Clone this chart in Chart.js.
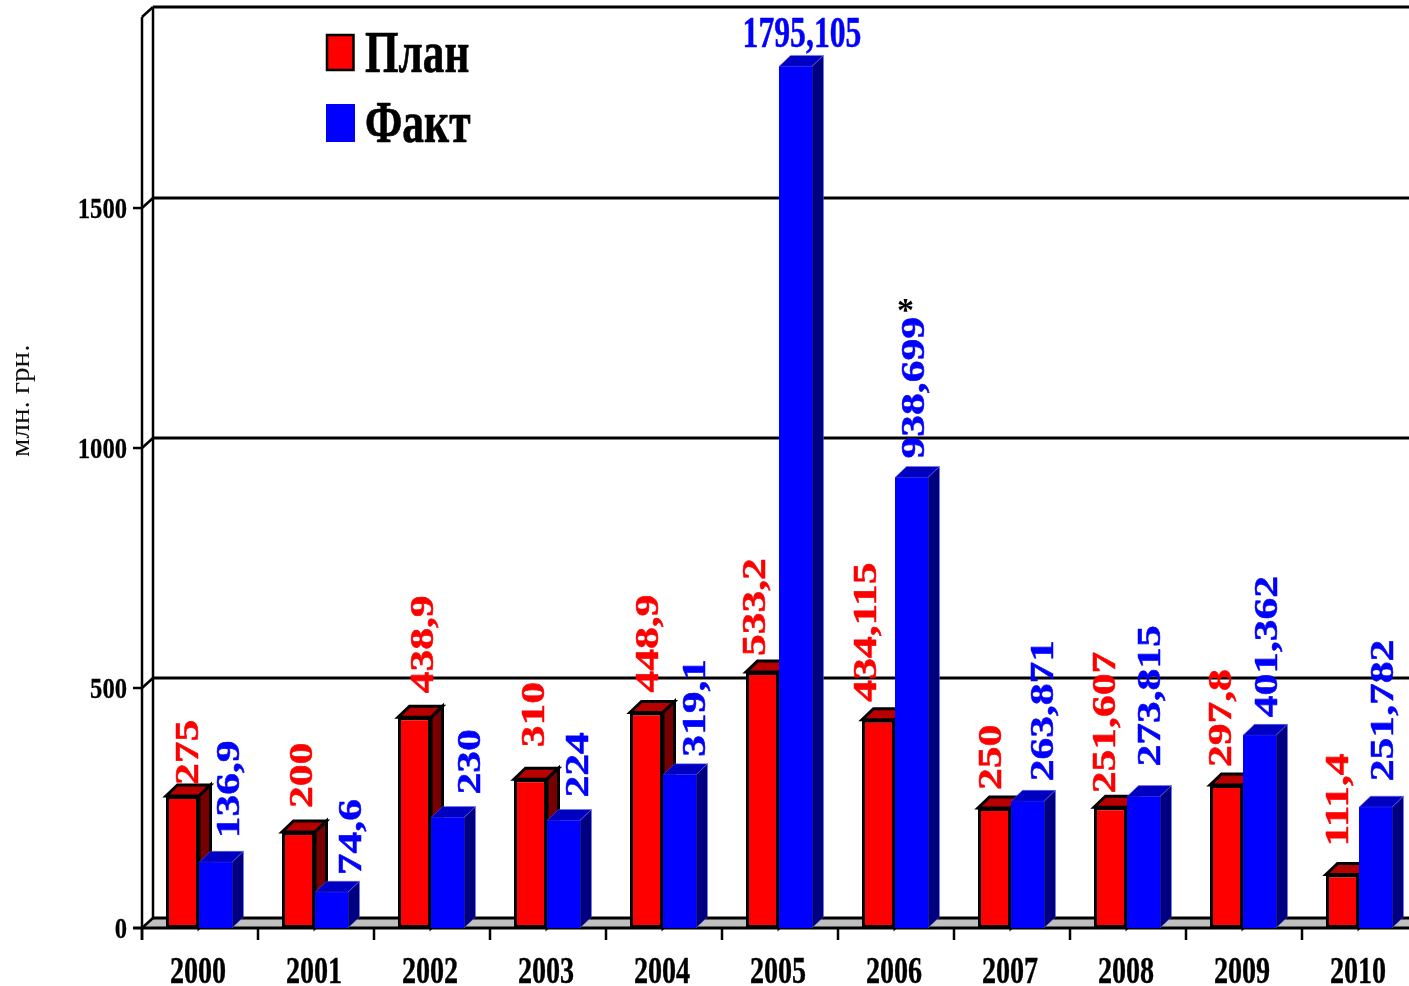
<!DOCTYPE html>
<html><head><meta charset="utf-8">
<style>html,body{margin:0;padding:0;background:#fff;overflow:hidden;width:1409px;height:986px}canvas{display:block}</style>
<script src="https://cdn.jsdelivr.net/npm/chart.js@4"></script>
</head><body><canvas id="c" width="1440" height="986" style="width:1440px;height:986px"></canvas>
<script>
const categories=['2000','2001','2002','2003','2004','2005','2006','2007','2008','2009','2010'];
const planValues=[275,200,438.9,310,448.9,533.2,434.115,250,251.607,297.8,111.4];
const factValues=[136.9,74.6,230,224,319.1,1795.105,938.699,263.871,273.815,401.362,251.782];
const seriesNames=['План','Факт'];
const yTicks=[0,500,1000,1500];
const yTitle='млн. грн.';
// label placement relative to each bar: sideways nudge, lift above the bar top
const planNudge=[7,5,10,5,3,-6,-11,-2,-4,-4,-3];
const planLift=[11,24,24,32,20,16,18,18,14,18,28];
const factNudge=[15,21,24,16,17,6.5,4,17,8,9,9];
const factLift=[24,17,23,23,18,19,19,20,30,18,26];

const SERIF='"Liberation Serif","Times New Roman",serif';
const DX=11.5,DY=11;   // bar depth
const WX=11,WY=10;     // wall depth
const SHIFT=1;         // plot area starts one pixel left of the drawn axis
const fmt=v=>String(v).replace('.',',');
function txt(ctx,s,x,y,o){
  ctx.save();ctx.translate(x,y);if(o.rot)ctx.rotate(o.rot);ctx.scale(o.sx||1,1);
  ctx.font=o.font;ctx.fillStyle=o.color||'#000';ctx.textAlign=o.align||'left';ctx.textBaseline=o.base||'alphabetic';
  if(o.bold){ctx.strokeStyle=ctx.fillStyle;ctx.lineWidth=o.bold;ctx.lineJoin='round';ctx.strokeText(s,0,0);}
  ctx.fillText(s,0,0);ctx.restore();
}
function poly(ctx,pts,fill,stroke,w){
  ctx.beginPath();pts.forEach((p,i)=>i?ctx.lineTo(p[0],p[1]):ctx.moveTo(p[0],p[1]));ctx.closePath();
  if(fill){ctx.fillStyle=fill;ctx.fill();}
  if(stroke){ctx.strokeStyle=stroke;ctx.lineWidth=w;ctx.lineJoin='miter';ctx.stroke();}
}
function line(ctx,a,b,c,d,w){ctx.beginPath();ctx.moveTo(a,b);ctx.lineTo(c,d);ctx.strokeStyle='#000';ctx.lineWidth=w;ctx.stroke();}
function sides(ctx,el,top,side,stroke,w){
  const hw=el.width/2,l=el.x-hw,r=el.x+hw,t=el.y,b=el.base;
  poly(ctx,[[l,t],[r,t],[r+DX,t-DY],[l+DX,t-DY]],top,stroke,w);
  poly(ctx,[[r,t],[r+DX,t-DY],[r+DX,b-DY],[r,b]],side,stroke,w);
}
const frame={id:'frame',
  beforeDatasetsDraw(ch){
    const {ctx,chartArea:a,scales:{x,y}}=ch;ctx.save();
    const R=ch.width,y0=y.getPixelForValue(0),L=a.left+SHIFT;
    poly(ctx,[[L,y0],[L+WX,y0-WY],[R,y0-WY],[R,y0]],'#c0c0c0');
    line(ctx,L+WX,y0-WY,R,y0-WY,3);
    line(ctx,L-9,y0,R,y0,3);
    line(ctx,L,a.top,L,y0+12,2.5);
    line(ctx,L+WX,a.top-WY,L+WX,y0-WY,2.5);
    line(ctx,L,y0,L+WX,y0-WY,2.5);
    line(ctx,L,a.top,L+WX,a.top-WY,2.5);
    line(ctx,L+WX,a.top-WY,R,a.top-WY,3);
    y.ticks.forEach(t=>{const p=y.getPixelForValue(t.value);
      if(t.value>0){line(ctx,L+WX,p-WY,R,p-WY,3);line(ctx,L,p,L+WX,p-WY,2.5);line(ctx,L-9,p,L,p,2.5);}
      txt(ctx,String(t.value),127,p+9.5,{font:'bold 30px '+SERIF,sx:0.82,align:'right',bold:0.3});
    });
    const w=x.getPixelForValue(1)-x.getPixelForValue(0);
    categories.forEach((c,i)=>{const p=x.getPixelForValue(i)+SHIFT;
      line(ctx,p-w/2,y0,p-w/2,y0+12,2.5);
      txt(ctx,c,p-2,983,{font:'bold 37px '+SERIF,sx:0.76,align:'center',bold:0.4});
    });
    txt(ctx,yTitle,28.5,457,{font:'28px '+SERIF,sx:1.04,rot:-Math.PI/2,color:'#111'});
    // legend
    poly(ctx,[[327,35],[353.5,35],[353.5,70],[327,70]],'#ff0000','#000',2.5);
    poly(ctx,[[326,104],[355,104],[355,142],[326,142]],'#0000ff');
    txt(ctx,seriesNames[0],365,72,{font:'bold 60px '+SERIF,sx:0.72,bold:0.7});
    txt(ctx,seriesNames[1],365,141.5,{font:'bold 60px '+SERIF,sx:0.725,bold:0.7});
    ctx.restore();
  },
  beforeDatasetDraw(ch,args){
    if(args.index!==0)return;
    const ctx=ch.ctx;ctx.save();
    args.meta.data.forEach(el=>sides(ctx,el,'#b80000','#780000','#000',3));
    ctx.restore();
  },
  afterDatasetsDraw(ch){
    const ctx=ch.ctx,meta=ch.getDatasetMeta(1),pm=ch.getDatasetMeta(0);ctx.save();
    meta.data.forEach(el=>{sides(ctx,el,'#0000c0','#000080','rgba(110,110,255,.55)',0.8);el.draw(ctx);});
    const big={font:'bold 34px '+SERIF,sx:1.28,rot:-Math.PI/2,base:'middle',bold:0.5};
    pm.data.forEach((el,i)=>txt(ctx,fmt(planValues[i]),el.x+planNudge[i],el.y-planLift[i],{...big,color:'#ff0000'}));
    meta.data.forEach((el,i)=>{
      if(factValues[i]>1500){txt(ctx,fmt(factValues[i]),el.x+factNudge[i],el.y-factLift[i],{font:'bold 44px '+SERIF,sx:0.72,align:'center',color:'#0000ff',bold:0.5});}
      else txt(ctx,fmt(factValues[i]),el.x+factNudge[i],el.y-factLift[i],{...big,color:'#0000ff'});
      if(categories[i]==='2006')txt(ctx,'*',el.x-6,321,{font:'bold 34px '+SERIF,align:'center'});
    });
    ctx.restore();
  }
};
new Chart(document.getElementById('c'),{
  type:'bar',
  data:{labels:categories,datasets:[
    {label:seriesNames[0],data:planValues,backgroundColor:'#ff0000',borderColor:'#000',borderWidth:3,borderSkipped:false},
    {label:seriesNames[1],data:factValues,backgroundColor:'#0000ff',borderWidth:0}
  ]},
  options:{responsive:false,animation:false,devicePixelRatio:1,
    layout:{padding:{left:141,top:17,right:23,bottom:58}},
    plugins:{legend:{display:false},title:{display:false},tooltip:{enabled:false}},
    datasets:{bar:{categoryPercentage:0.569,barPercentage:1}},
    scales:{
      x:{grid:{display:false,drawTicks:false},border:{display:false},ticks:{display:false}},
      y:{min:0,max:1898,grid:{display:false,drawTicks:false},border:{display:false},
         afterBuildTicks(s){s.ticks=yTicks.map(v=>({value:v}));},ticks:{display:false}}
    }
  },
  plugins:[frame]
});
</script></body></html>
